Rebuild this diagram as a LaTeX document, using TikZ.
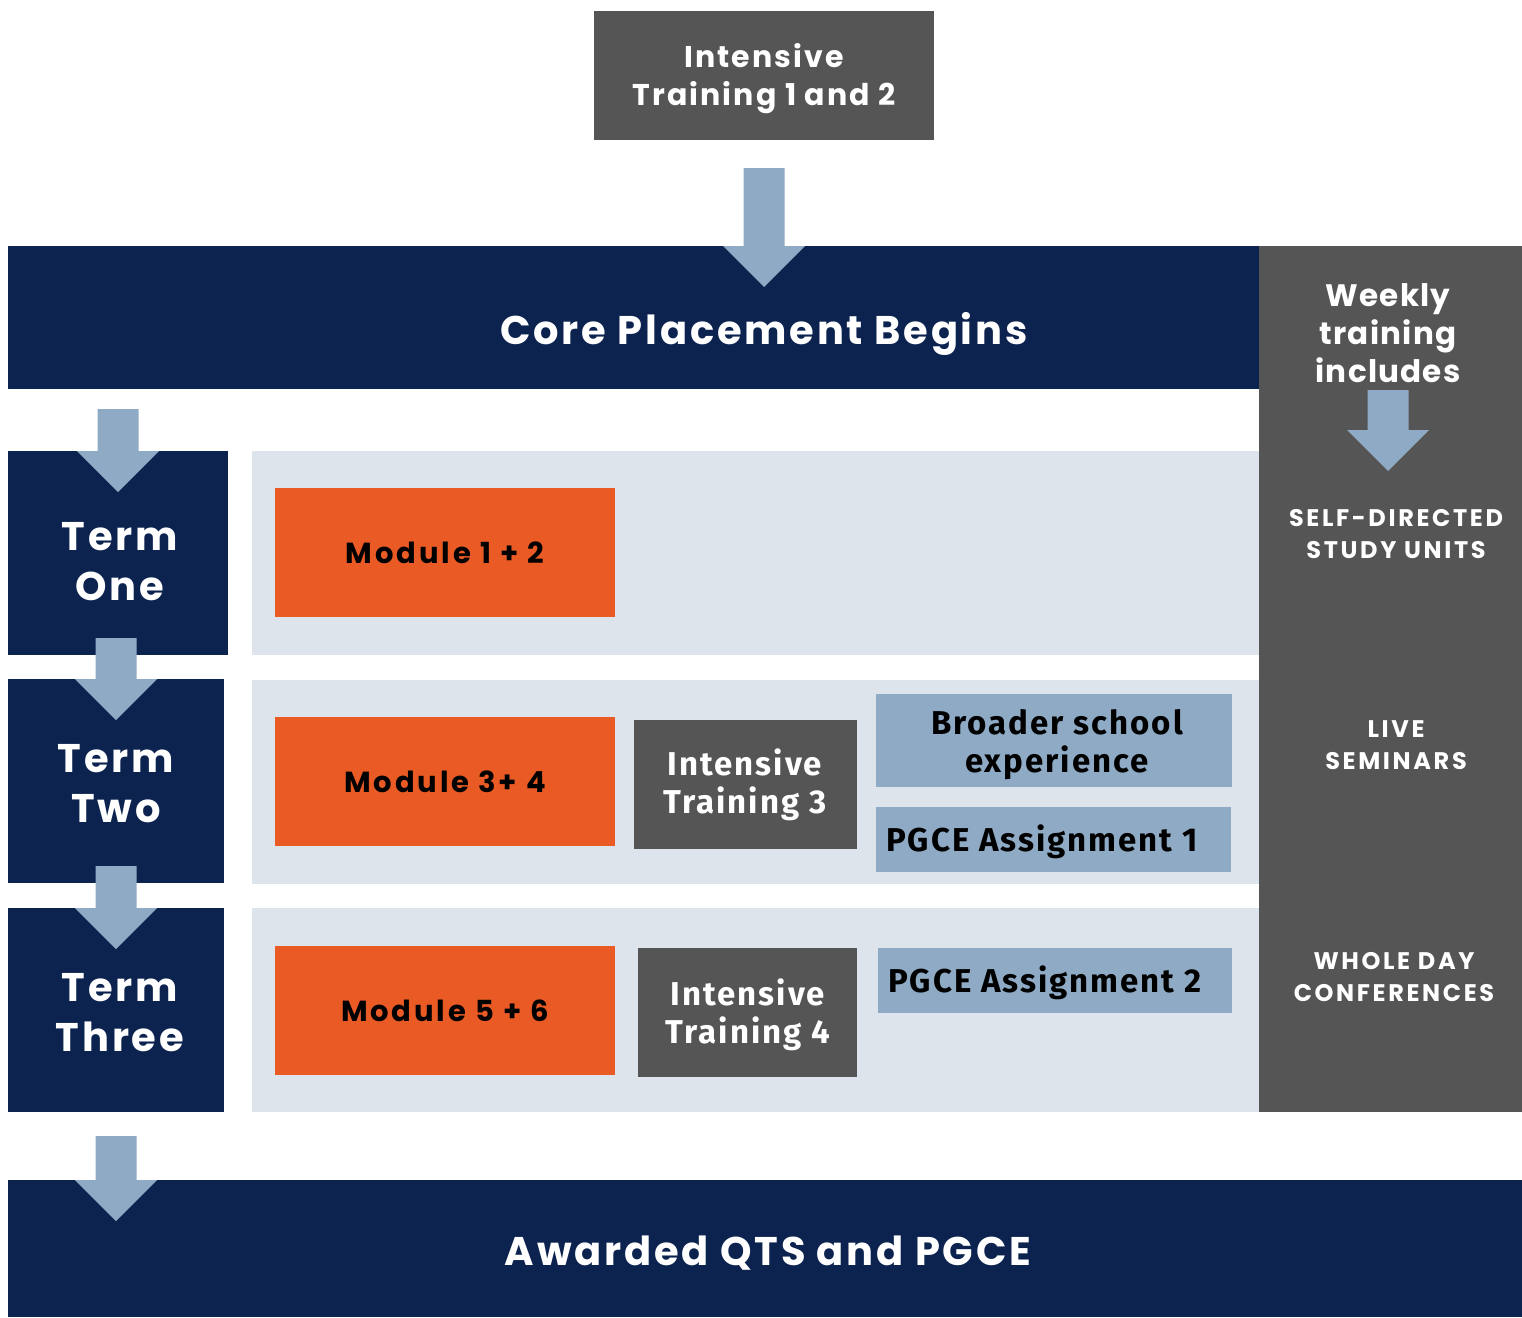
\documentclass[tikz,border=0pt]{standalone}
\usepackage{fontspec}
\newfontfamily\popf{Poppins}[LetterSpace=7]
\newfontfamily\popw{Poppins}[LetterSpace=4]
\newfontfamily\popm{Poppins}[LetterSpace=10]
\newfontfamily\popc{Poppins}[LetterSpace=11]
\newfontfamily\latof{Fira Sans}[LetterSpace=6]
\definecolor{navy}{HTML}{0C2350}
\definecolor{greyc}{HTML}{555555}
\definecolor{arrowc}{HTML}{8FAAC4}
\definecolor{bandc}{HTML}{DDE4EC}
\definecolor{orangec}{HTML}{E95A24}
\tikzset{
  blk/.style={anchor=north west, inner sep=0pt, outer sep=0pt, align=center},
  navybox/.style={blk, fill=navy},
  greybox/.style={blk, fill=greyc},
  bandbox/.style={blk, fill=bandc},
  modbox/.style={blk, fill=orangec, text=black, font=\popm\bfseries\fontsize{29}{36}\selectfont},
  bluebox/.style={blk, fill=arrowc},
  txt/.style={inner sep=0pt, align=center},
  bigtxt/.style={txt, text=white, font=\popf\bfseries\fontsize{40}{50}\selectfont},
  sidecap/.style={txt, text=white, font=\popc\bfseries\fontsize{24}{32}\selectfont},
  ittxt/.style={txt, text=white, font=\latof\bfseries\fontsize{33}{38}\selectfont},
  bluetxt/.style={txt, text=black, font=\latof\bfseries\fontsize{33}{38}\selectfont},
  pics/barrow/.style={code={
    \fill[arrowc] (-20.5,-#1) -- (20.5,-#1) -- (20.5,0) -- (41,0) -- (0,41) -- (-41,0) -- (-20.5,0) -- cycle;
  }},
}
\begin{document}
\begin{tikzpicture}[x=1pt,y=-1pt]
\useasboundingbox[fill=white] (0,0) rectangle (1522,1317);
% top
\node[greybox, minimum width=340pt, minimum height=129pt] (top) at (594,11) {};
\node[txt, text=white, font=\popf\bfseries\fontsize{30}{38}\selectfont] (toptext) at ([yshift=-3pt]top.center) {Intensive\\ Training 1 and 2};
% core banner
\node[navybox, minimum width=1251pt, minimum height=143pt] (core) at (8,246) {};
\node[bigtxt] (coretext) at (764,334) {Core Placement Begins};
% right column
\node[greybox, minimum width=263pt, minimum height=866pt] (side) at (1259,246) {};
\node[txt, text=white, font=\popw\bfseries\fontsize{31}{38}\selectfont] (weekly) at (1388,333) {Weekly\\ training\\ includes};
\node[sidecap] (selfd) at (1396,534) {SELF-DIRECTED\\ STUDY UNITS};
\node[sidecap] (live) at (1396,745) {LIVE\\ SEMINARS};
\node[sidecap] (whole) at (1394,977) {WHOLE DAY\\ CONFERENCES};
\coordinate (sidearrow) at (1388,430);
% bands
\node[bandbox, minimum width=1007pt, minimum height=204pt] (band1) at (252,451) {};
\node[bandbox, minimum width=1007pt, minimum height=204pt] (band2) at (252,680) {};
\node[bandbox, minimum width=1007pt, minimum height=204pt] (band3) at (252,908) {};
% terms
\node[navybox, minimum width=220pt, minimum height=204pt] (term1) at (8,451) {};
\node[navybox, minimum width=216pt, minimum height=204pt] (term2) at (8,679) {};
\node[navybox, minimum width=216pt, minimum height=204pt] (term3) at (8,908) {};
\node[bigtxt] (t1text) at (120,562) {Term\\ One};
\node[bigtxt] (t2text) at (116,784) {Term\\ Two};
\node[bigtxt] (t3text) at (120,1013) {Term\\ Three};
% modules
\node[modbox, minimum width=340pt, minimum height=129pt] (mod1) at (275,488) {Module 1 + 2};
\node[modbox, minimum width=340pt, minimum height=129pt] (mod2) at (275,717) {Module 3+ 4};
\node[modbox, minimum width=340pt, minimum height=129pt] (mod3) at (275,946) {Module 5 + 6};
% intensive
\node[greybox, minimum width=223pt, minimum height=129pt] (it3) at (634,720) {};
\node[greybox, minimum width=219pt, minimum height=129pt] (it4) at (638,948) {};
\node[ittxt] (it3text) at (745,785) {Intensive\\ Training 3};
\node[ittxt] (it4text) at (748,1015) {Intensive\\ Training 4};
% blue boxes
\node[bluebox, minimum width=356pt, minimum height=93pt] (broad) at (876,694) {};
\node[bluebox, minimum width=355pt, minimum height=65pt] (pgce1) at (876,807) {};
\node[bluebox, minimum width=354pt, minimum height=65pt] (pgce2) at (878,948) {};
\node[bluetxt] (broadtext) at (1057,745) {Broader school\\ experience};
\node[bluetxt, anchor=west] (pgce1text) at (886,842) {PGCE Assignment 1};
\node[bluetxt, anchor=west] (pgce2text) at (888,983) {PGCE Assignment 2};
% award
\node[navybox, minimum width=1514pt, minimum height=137pt] (award) at (8,1180) {};
\node[bigtxt] (awardtext) at (768,1253) {Awarded QTS and PGCE};
% arrows
\pic at (top.south |- core.north) {barrow=78};
\pic at (term1.north) {barrow=42};
\pic at (term2.north) {barrow=41};
\pic at (term3.north) {barrow=42};
\pic at (term3.south |- award.north) {barrow=44};
\pic at (sidearrow) {barrow=40};
\end{tikzpicture}
\end{document}
